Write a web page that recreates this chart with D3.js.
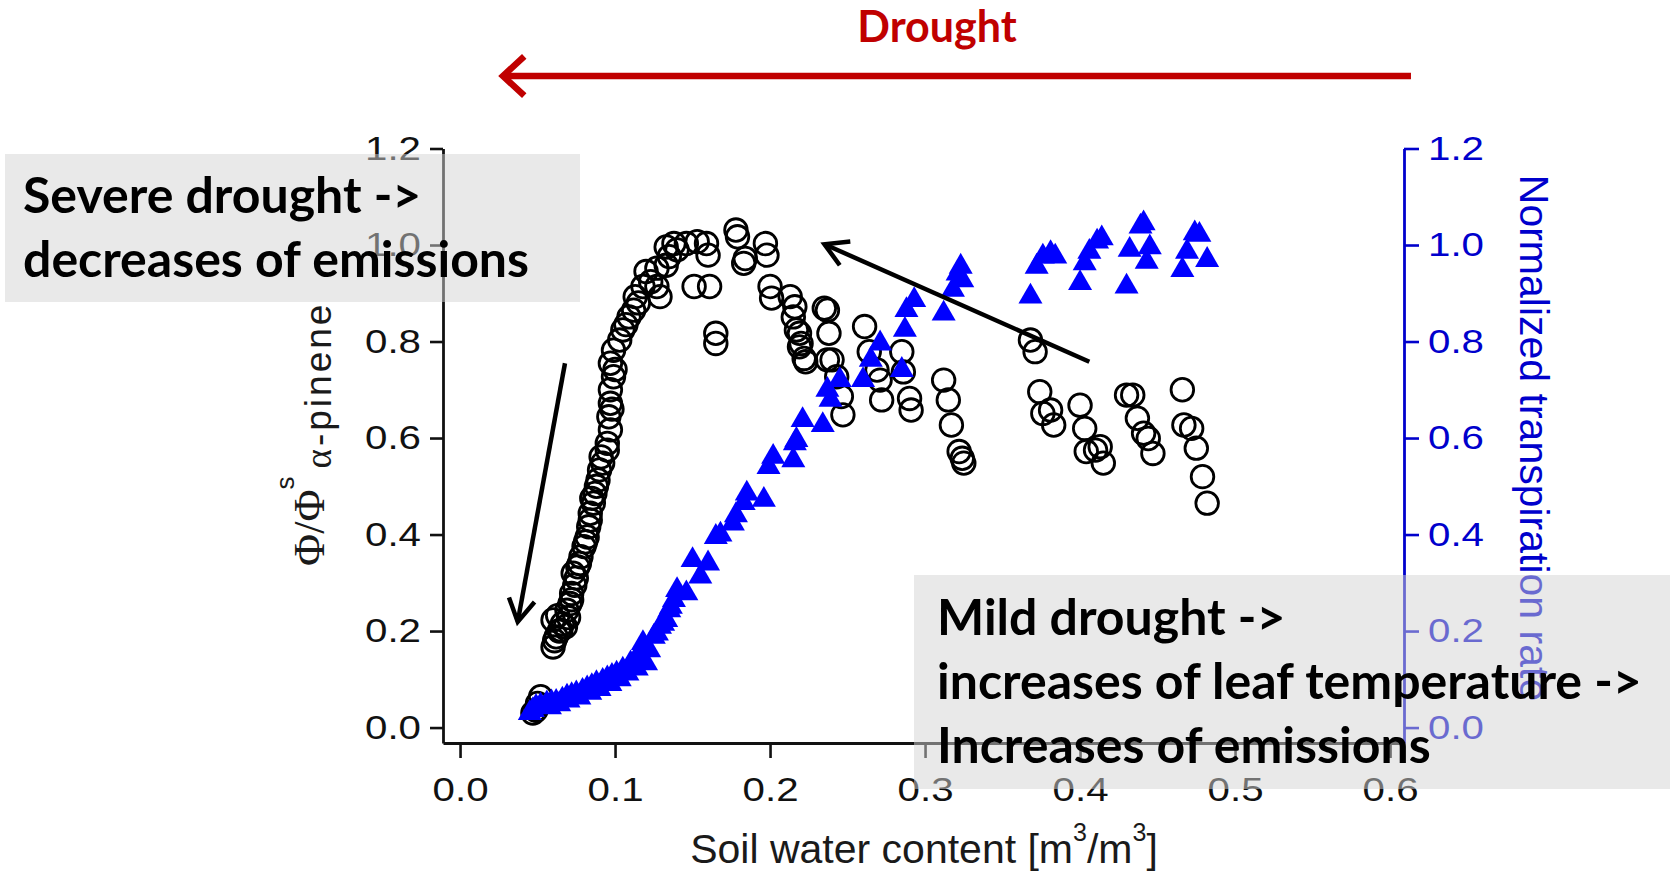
<!DOCTYPE html>
<html>
<head>
<meta charset="utf-8">
<script src="https://cdn.jsdelivr.net/npm/d3@7"></script>
<style>
  html, body { margin: 0; padding: 0; background: #fff; }
  svg { display: block; }
</style>
</head>
<body>
<svg id="chart" width="1670" height="872"></svg>
<script>
// ---- axis ticks ----
const xTickValues = [0, 0.1, 0.2, 0.3, 0.4, 0.5, 0.6];
const yTickValues = [0, 0.2, 0.4, 0.6, 0.8, 1.0, 1.2];

// ---- normalized alpha-pinene emission vs soil water content [SWC, Phi/Phi_s] ----
const emission = [
  [0.047,0.030],[0.049,0.036],[0.052,0.064],[0.050,0.050],
  [0.060,0.167],[0.061,0.180],[0.062,0.188],[0.064,0.200],[0.065,0.202],[0.066,0.215],
  [0.068,0.209],[0.060,0.223],[0.063,0.232],[0.069,0.243],[0.070,0.228],[0.071,0.257],
  [0.072,0.265],[0.072,0.278],[0.074,0.295],[0.073,0.320],[0.075,0.310],[0.076,0.333],
  [0.078,0.354],[0.077,0.340],[0.080,0.375],[0.081,0.385],[0.082,0.395],[0.083,0.416],
  [0.084,0.430],[0.084,0.444],[0.086,0.465],[0.085,0.475],[0.087,0.485],[0.089,0.513],
  [0.088,0.500],[0.090,0.534],[0.091,0.561],[0.092,0.548],[0.095,0.589],[0.095,0.575],
  [0.097,0.617],[0.096,0.644],[0.097,0.672],[0.098,0.660],[0.097,0.700],[0.099,0.727],
  [0.097,0.755],[0.100,0.742],[0.099,0.782],[0.103,0.803],[0.105,0.824],[0.107,0.835],
  [0.109,0.851],[0.112,0.865],[0.113,0.893],[0.115,0.880],[0.118,0.914],[0.120,0.945],
  [0.123,0.924],[0.127,0.914],[0.129,0.893],[0.127,0.952],[0.133,0.958],[0.135,0.976],
  [0.133,0.996],[0.138,1.003],[0.140,0.990],[0.146,1.003],[0.153,1.007],[0.151,0.914],
  [0.161,0.914],[0.159,1.003],[0.160,0.979],[0.165,0.817],[0.165,0.796],[0.178,1.031],
  [0.179,1.017],[0.184,0.972],[0.183,0.962],[0.197,1.003],[0.198,0.979],[0.200,0.914],
  [0.201,0.890],
  [0.213,0.893],[0.216,0.872],[0.215,0.851],[0.217,0.824],[0.219,0.817],[0.220,0.796],
  [0.219,0.789],[0.222,0.765],[0.223,0.758],[0.235,0.869],[0.237,0.865],[0.238,0.817],
  [0.240,0.762],[0.237,0.762],[0.243,0.727],[0.246,0.686],[0.247,0.648],[0.261,0.831],
  [0.264,0.779],[0.269,0.741],[0.271,0.720],[0.272,0.679],[0.285,0.779],[0.286,0.737],
  [0.290,0.682],[0.291,0.658],[0.312,0.720],[0.315,0.679],[0.317,0.627],[0.322,0.572],
  [0.324,0.558],[0.325,0.548],[0.368,0.803],[0.371,0.779],[0.374,0.696],[0.376,0.651],
  [0.381,0.658],[0.383,0.627],[0.400,0.668],[0.403,0.620],[0.404,0.572],[0.410,0.575],
  [0.413,0.582],[0.415,0.548],[0.430,0.689],[0.434,0.689],[0.437,0.641],[0.441,0.610],
  [0.444,0.599],[0.447,0.568],[0.466,0.700],[0.467,0.627],[0.472,0.620],[0.475,0.579],
  [0.479,0.520],[0.482,0.465]
];

// ---- normalized transpiration rate vs soil water content [SWC, rate] ----
const transpiration = [
  [0.045,0.030],[0.047,0.036],[0.049,0.043],[0.052,0.046],[0.056,0.050],[0.059,0.052],
  [0.062,0.053],[0.066,0.058],[0.069,0.064],[0.072,0.067],[0.075,0.071],[0.079,0.076],
  [0.082,0.081],[0.085,0.086],[0.088,0.092],[0.092,0.097],[0.095,0.102],[0.098,0.107],
  [0.101,0.112],[0.105,0.120],[0.110,0.133],[0.113,0.140],[0.116,0.147],[0.120,0.133],
  [0.058,0.042],[0.064,0.048],[0.070,0.056],[0.077,0.062],[0.084,0.072],[0.090,0.080],
  [0.097,0.090],[0.103,0.100],[0.108,0.112],[0.114,0.122],
  [0.118,0.175],[0.122,0.160],[0.125,0.188],[0.129,0.209],[0.127,0.195],[0.133,0.223],
  [0.131,0.215],[0.135,0.243],[0.138,0.264],[0.136,0.250],[0.140,0.285],[0.146,0.278],
  [0.150,0.347],[0.155,0.313],[0.160,0.340],[0.165,0.395],[0.168,0.400],[0.176,0.423],
  [0.178,0.440],[0.183,0.465],[0.185,0.485],[0.196,0.472],[0.199,0.540],[0.202,0.561],
  [0.215,0.554],[0.216,0.589],[0.217,0.596],[0.221,0.637],[0.234,0.627],[0.237,0.700],
  [0.239,0.679],[0.245,0.720],[0.260,0.720],[0.265,0.762],[0.271,0.796],[0.285,0.741],
  [0.287,0.824],[0.288,0.865],[0.293,0.886],[0.312,0.858],[0.318,0.907],[0.321,0.941],
  [0.324,0.927],[0.323,0.955],
  [0.368,0.893],[0.372,0.955],[0.376,0.976],[0.381,0.983],[0.384,0.976],[0.400,0.921],
  [0.403,0.962],[0.406,0.986],[0.411,1.007],[0.414,1.014],[0.430,0.914],[0.432,0.990],
  [0.439,1.038],[0.441,1.045],[0.445,0.995],[0.443,0.965],[0.466,0.948],[0.469,0.986],
  [0.474,1.024],[0.477,1.021],[0.482,0.969]
];

// ---- annotation arrows, in data units [x, y] ----
const severeArrow = { from: [0.0677, 0.755], to: [0.0372, 0.219] };
const mildArrow   = { from: [0.406, 0.758],  to: [0.2351, 1.0016] };
const droughtArrowX = [0.6135, 0.0277];   // right end, tip

const annotationSevere = ["Severe drought ->", "decreases of emissions"];
const annotationMild = ["Mild drought ->", "increases of leaf temperature ->", "Increases of emissions"];

// ---- setup ----
const svg = d3.select("#chart");
const x = d3.scaleLinear().domain([-0.011, 0.609]).range([443, 1404]);
const y = d3.scaleLinear().domain([-0.032, 1.2]).range([743, 148.5]);

const AXIS_FONT = "'Liberation Sans', Arial, sans-serif";
const NOTE_FONT = "Lato, 'Open Sans', sans-serif";
const BLUE_AXIS = "#0000cc";

function styleAxis(g, color) {
  g.select(".domain").attr("stroke", color).attr("stroke-width", 2.8);
  g.selectAll(".tick line").attr("stroke", color).attr("stroke-width", 2.6);
  g.selectAll(".tick text")
    .attr("fill", color)
    .style("font-family", AXIS_FONT)
    .style("font-size", "33px");
}

// bottom axis
const gx = svg.append("g").attr("transform", "translate(0,743)")
  .call(d3.axisBottom(x).tickValues(xTickValues).tickSize(15).tickSizeOuter(0)
    .tickPadding(20).tickFormat(d3.format(".1f")));
styleAxis(gx, "#111");
gx.selectAll(".tick text").attr("transform", "scale(1.22,1)");

// left axis
const gy = svg.append("g").attr("transform", "translate(443,0)")
  .call(d3.axisLeft(y).tickValues(yTickValues).tickSize(13).tickSizeOuter(0)
    .tickFormat(d3.format(".1f")));
styleAxis(gy, "#111");
gy.selectAll(".tick text").attr("x", null).attr("transform", "translate(-22,0) scale(1.22,1)");

// right axis
const gy2 = svg.append("g").attr("transform", "translate(1404,0)")
  .call(d3.axisRight(y).tickValues(yTickValues).tickSize(15).tickSizeOuter(0)
    .tickFormat(d3.format(".1f")));
styleAxis(gy2, BLUE_AXIS);
gy2.selectAll(".tick text").attr("x", null).attr("transform", "translate(24,0) scale(1.22,1)");

// axis titles
const xTitle = svg.append("text")
  .attr("x", 924).attr("y", 863)
  .attr("text-anchor", "middle")
  .attr("fill", "#1a1a1a")
  .style("font-family", AXIS_FONT).style("font-size", "41px");
xTitle.append("tspan").text("Soil water content [m");
xTitle.append("tspan").attr("dy", -22).style("font-size", "25px").text("3");
xTitle.append("tspan").attr("dy", 22).text("/m");
xTitle.append("tspan").attr("dy", -22).style("font-size", "25px").text("3");
xTitle.append("tspan").attr("dy", 22).text("]");

const yTitle = svg.append("text")
  .attr("transform", "translate(324,566) rotate(-90)")
  .attr("fill", "#1a1a1a")
  .style("font-family", AXIS_FONT).style("font-size", "37px");
yTitle.append("tspan").style("font-family", "'Liberation Serif', serif").style("font-size", "44px").text("\u03A6/\u03A6");
yTitle.append("tspan").attr("dy", -30).style("font-size", "26px").text("s");
yTitle.append("tspan").attr("dy", 37).attr("dx", 8).style("letter-spacing", "3px")
  .style("font-family", "'Liberation Serif', serif").text("\u03B1");
yTitle.append("tspan").style("letter-spacing", "3px").text("-pinene");

svg.append("text")
  .attr("transform", "translate(1520,438) rotate(90)")
  .attr("text-anchor", "middle")
  .attr("fill", BLUE_AXIS)
  .style("font-family", AXIS_FONT).style("font-size", "41px")
  .text("Normalized transpiration rate");

// ---- data marks ----
svg.append("g").selectAll("circle").data(emission).join("circle")
  .attr("cx", d => x(d[0])).attr("cy", d => y(d[1]))
  .attr("r", 11.3)
  .attr("fill", "none").attr("stroke", "#000").attr("stroke-width", 2.8);

const tri = d3.symbol(d3.symbolTriangle, 250);
svg.append("g").selectAll("path").data(transpiration).join("path")
  .attr("transform", d => `translate(${x(d[0])},${y(d[1])})`)
  .attr("d", tri)
  .attr("fill", "#0000ff");

// ---- arrows ----
function arrow(g, x1, y1, x2, y2, color, width, headLen, headAngle) {
  const ang = Math.atan2(y1 - y2, x1 - x2);
  const a1 = ang - headAngle, a2 = ang + headAngle;
  g.append("line")
    .attr("x1", x1).attr("y1", y1).attr("x2", x2).attr("y2", y2)
    .attr("stroke", color).attr("stroke-width", width);
  g.append("polyline")
    .attr("points", [
      [x2 + headLen * Math.cos(a1), y2 + headLen * Math.sin(a1)],
      [x2, y2],
      [x2 + headLen * Math.cos(a2), y2 + headLen * Math.sin(a2)]
    ].map(p => p.join(",")).join(" "))
    .attr("fill", "none").attr("stroke", color).attr("stroke-width", width)
    .attr("stroke-linejoin", "miter");
}
const arrowLayer = svg.append("g");
arrow(arrowLayer, x(severeArrow.from[0]), y(severeArrow.from[1]), x(severeArrow.to[0]), y(severeArrow.to[1]),
      "#000", 4.5, 26, Math.PI / 6);
arrow(arrowLayer, x(mildArrow.from[0]), y(mildArrow.from[1]), x(mildArrow.to[0]), y(mildArrow.to[1]),
      "#000", 4.5, 26, Math.PI / 6);

// ---- annotation boxes ----
function noteBox(x0, y0, w, h, lines, tx, ty, lh) {
  const g = svg.append("g");
  g.append("rect").attr("x", x0).attr("y", y0).attr("width", w).attr("height", h)
    .attr("fill", "rgb(211,211,211)").attr("fill-opacity", 0.5);
  g.selectAll("text").data(lines).join("text")
    .attr("x", tx).attr("y", (d, i) => ty + i * lh)
    .attr("fill", "#000")
    .style("font-family", NOTE_FONT).style("font-weight", 700).style("font-size", "50px")
    .text(d => d);
}
noteBox(5, 154, 575, 148, annotationSevere, 23, 213, 64);
noteBox(914, 575, 756, 214, annotationMild, 937, 635, 64);

// ---- drought arrow and label ----
const headerLayer = svg.append("g");
arrow(headerLayer, x(droughtArrowX[0]), 76, x(droughtArrowX[1]), 76, "#c00000", 6.5, 29, Math.PI / 4.2);
headerLayer.append("text")
  .attr("x", 937).attr("y", 42)
  .attr("text-anchor", "middle")
  .attr("fill", "#c00000")
  .style("font-family", NOTE_FONT).style("font-weight", 700).style("font-size", "43px")
  .text("Drought");
</script>
</body>
</html>
